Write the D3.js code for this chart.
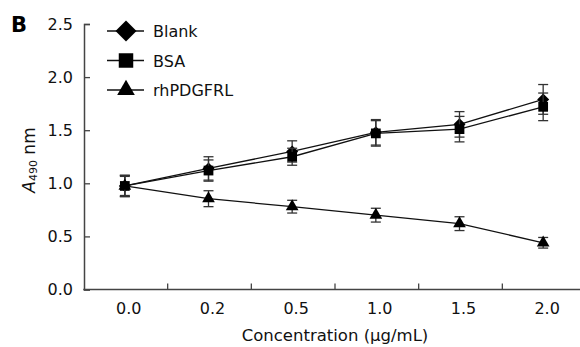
<!DOCTYPE html>
<html lang="en">
<head>
    <meta charset="UTF-8">
    <script src="https://cdn.jsdelivr.net/npm/d3@7"></script>
    <title>A490 vs concentration</title>
    <style>
        * { margin: 0; padding: 0; }
        body { background: #fff; }
        svg { display: block; font-family: "DejaVu Sans", Tahoma, sans-serif; }
    </style>
</head>
<body>
    <svg id="chart" width="580" height="347"></svg>
    <script type="text/javascript">
      var categories = ['0.0', '0.2', '0.5', '1.0', '1.5', '2.0'];
      var blank = [0.975, 1.14, 1.30, 1.48, 1.555, 1.79];
      var blankErr = [0.10, 0.11, 0.10, 0.12, 0.12, 0.14];
      var bsa = [0.975, 1.12, 1.25, 1.47, 1.51, 1.72];
      var bsaErr = [0.10, 0.10, 0.08, 0.12, 0.12, 0.13];
      var rh = [0.975, 0.855, 0.78, 0.70, 0.62, 0.44];
      var rhErr = [0.09, 0.075, 0.06, 0.065, 0.065, 0.05];
      var yTicks = [0, 0.5, 1.0, 1.5, 2.0, 2.5];

      var series = [
        { name: 'Blank', values: blank, err: blankErr, symbol: d3.symbolSquare, rot: 45, size: 72, legendSize: 220 },
        { name: 'BSA', values: bsa, err: bsaErr, symbol: d3.symbolSquare, rot: 0, size: 95, legendSize: 210 },
        { name: 'rhPDGFRL', values: rh, err: rhErr, symbol: d3.symbolTriangle, rot: 0, size: 70, legendSize: 135 }
      ];

      var svg = d3.select('#chart');
      var axisColor = '#444';
      var fs = 16;

      var x = d3.scaleBand().domain(categories).range([84, 586]).padding(0);
      var y = d3.scaleLinear().domain([0, 2.5]).range([289.5, 24]);

      function cx(i) { return x(categories[i]) + x.bandwidth() / 2 - 1; }

      // y axis, ticks pointing inward
      var yAxis = svg.append('g')
        .attr('transform', 'translate(84,0)')
        .call(d3.axisLeft(y).tickValues(yTicks).tickFormat(d3.format('.1f'))
          .tickSizeInner(-6).tickSizeOuter(-6).tickPadding(11));
      yAxis.select('.domain').attr('stroke', axisColor).attr('stroke-width', 1.5);
      yAxis.selectAll('.tick line').attr('stroke', axisColor).attr('stroke-width', 1.3);
      yAxis.selectAll('.tick text').attr('font-size', fs).attr('fill', '#111')
        .attr('font-family', '"DejaVu Sans", Tahoma, sans-serif');

      // x axis line with ticks between categories
      svg.append('line')
        .attr('x1', 83.25).attr('x2', 586)
        .attr('y1', y(0)).attr('y2', y(0))
        .attr('stroke', axisColor).attr('stroke-width', 1.5);

      svg.append('g').selectAll('line')
        .data(categories.slice(1))
        .join('line')
        .attr('x1', function (d) { return x(d); })
        .attr('x2', function (d) { return x(d); })
        .attr('y1', y(0)).attr('y2', y(0) - 6)
        .attr('stroke', axisColor).attr('stroke-width', 1.3);

      svg.append('g').selectAll('text')
        .data(categories)
        .join('text')
        .attr('x', function (d) { return x(d) + x.bandwidth() / 2 + 3; })
        .attr('y', 314)
        .attr('text-anchor', 'middle')
        .attr('font-size', fs)
        .attr('fill', '#111')
        .text(function (d) { return d; });

      // axis titles
      svg.append('text')
        .attr('x', 335).attr('y', 341)
        .attr('text-anchor', 'middle')
        .attr('font-size', 16.5)
        .attr('fill', '#111')
        .text('Concentration (μg/mL)');

      var yTitle = svg.append('text')
        .attr('transform', 'translate(35,160) rotate(-90)')
        .attr('text-anchor', 'middle')
        .attr('font-size', 17)
        .attr('fill', '#111');
      yTitle.append('tspan').attr('font-style', 'italic').text('A');
      yTitle.append('tspan').attr('font-size', 11).attr('dy', 2).text('490');
      yTitle.append('tspan').attr('dy', -2).text(' nm');

      svg.append('text')
        .attr('x', 11).attr('y', 31.5)
        .attr('font-size', 21)
        .attr('font-weight', 'bold')
        .attr('fill', '#000')
        .text('B');

      var line = d3.line()
        .x(function (d, i) { return cx(i); })
        .y(function (d) { return y(d); });

      series.forEach(function (s) {
        var g = svg.append('g');

        g.append('path')
          .attr('d', line(s.values))
          .attr('fill', 'none')
          .attr('stroke', '#111')
          .attr('stroke-width', 1.3);

        var eb = g.selectAll('g.err')
          .data(s.values)
          .join('g')
          .attr('class', 'err')
          .attr('stroke', '#333')
          .attr('stroke-width', 1.3);

        eb.append('line')
          .attr('x1', function (d, i) { return cx(i); })
          .attr('x2', function (d, i) { return cx(i); })
          .attr('y1', function (d, i) { return y(d + s.err[i]); })
          .attr('y2', function (d, i) { return y(d - s.err[i]); });

        [1, -1].forEach(function (sign) {
          eb.append('line')
            .attr('x1', function (d, i) { return cx(i) - 5; })
            .attr('x2', function (d, i) { return cx(i) + 5; })
            .attr('y1', function (d, i) { return y(d + sign * s.err[i]); })
            .attr('y2', function (d, i) { return y(d + sign * s.err[i]); });
        });

        g.selectAll('path.pt')
          .data(s.values)
          .join('path')
          .attr('class', 'pt')
          .attr('d', d3.symbol().type(s.symbol).size(s.size))
          .attr('transform', function (d, i) {
            return 'translate(' + cx(i) + ',' + y(d) + ') rotate(' + s.rot + ')';
          })
          .attr('fill', '#000');
      });

      // legend
      var legend = svg.append('g')
        .selectAll('g')
        .data(series)
        .join('g')
        .attr('transform', function (d, i) { return 'translate(0,' + (31 + i * 29.5) + ')'; });

      legend.append('line')
        .attr('x1', 107).attr('x2', 144)
        .attr('y1', 0).attr('y2', 0)
        .attr('stroke', '#111').attr('stroke-width', 1.3);

      legend.append('path')
        .attr('d', function (d) { return d3.symbol().type(d.symbol).size(d.legendSize)(); })
        .attr('transform', function (d) { return 'translate(126,0) rotate(' + d.rot + ')'; })
        .attr('fill', '#000');

      legend.append('text')
        .attr('x', 153).attr('y', 6)
        .attr('font-size', fs)
        .attr('fill', '#111')
        .text(function (d) { return d.name; });
    </script>
</body>
</html>
